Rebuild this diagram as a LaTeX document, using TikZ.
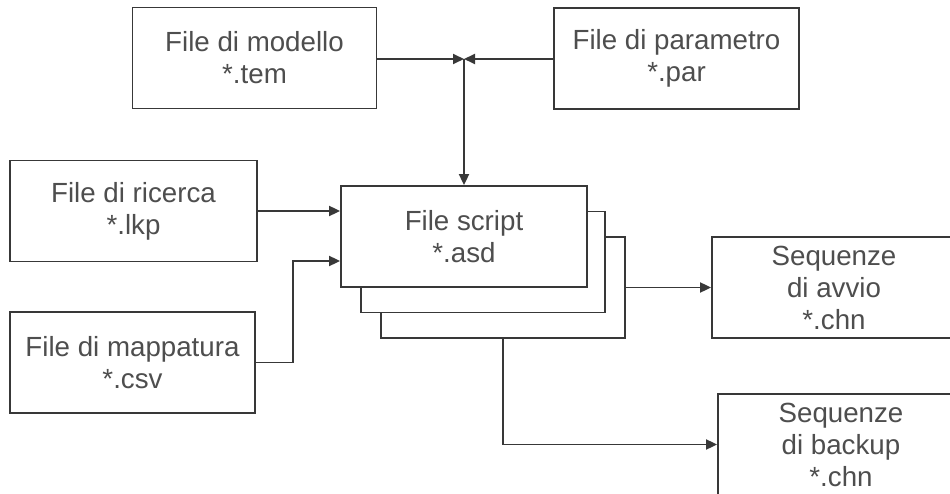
\documentclass[tikz,border=0pt]{standalone}
\usepackage{fontspec}
\setmainfont{Liberation Sans}
\usetikzlibrary{arrows.meta,calc}
\definecolor{linec}{HTML}{383838}
\definecolor{textc}{HTML}{4E4E4E}
\tikzset{
  filebox/.style={draw=linec, line width=1.8pt, fill=white, rectangle,
    minimum width=244pt, minimum height=101pt, inner sep=0pt,
    align=center, text=textc,
    font=\fontsize{27.7pt}{32pt}\selectfont},
  link/.style={draw=linec, line width=1.8pt},
  arr/.style={link, -{Triangle[length=11pt,width=10pt]}}
}
\begin{document}
\begin{tikzpicture}[x=1pt,y=-1pt]
\useasboundingbox (0,0) rectangle (950,494);
\clip (0,0) rectangle (950,494);
\fill[white] (0,0) rectangle (950,494);

% input files
\node[filebox] (modello)   at (254.5,58)  {File di modello\\*.tem};
\node[filebox, minimum width=245pt] (parametro) at (676.5,58.5) {File di parametro\\*.par};
\node[filebox, minimum width=247pt] (ricerca)   at (133.5,211) {File di ricerca\\*.lkp};
\node[filebox, minimum width=245pt] (mappatura) at (132.5,362.5) {File di mappatura\\*.csv};

% stacked script files
\node[filebox] (script3) at (503,287.5) {};
\node[filebox] (script2) at (483,262) {};
\node[filebox, minimum width=246pt] (script) at (464,236.5) {File script\\*.asd};

% output sequences
\node[filebox] (avvio)  at (834,287.5) {Sequenze\\di avvio\\*.chn};
\node[filebox, minimum width=246pt] (backup) at (841,444.5) {Sequenze\\di backup\\*.chn};

% junction of template and parameter files
\coordinate (J) at (464,59);
\draw[arr] (modello.east |- J) -- (J);
\draw[arr] (parametro.west |- J) -- (J);
\draw[arr] (J) -- (J |- script.north);

% lookup and mapping files into the script
\draw[arr] (ricerca.east) -- (script.west |- ricerca.east);
\coordinate (mapin) at (341,261);
\draw[arr] (mappatura.east) -| (293,261) -- (script.west |- mapin);

% script to the sequences
\draw[arr] (script3.east) -- (avvio.west);
\coordinate (down) at (503,338);
\draw[arr] (down) |- (backup.west);
\end{tikzpicture}
\end{document}
